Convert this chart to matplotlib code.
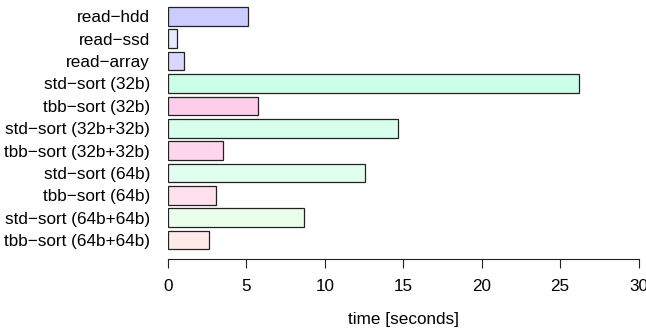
import numpy as np
import matplotlib
matplotlib.use("Agg")
import matplotlib.pyplot as plt

plt.rcParams['font.family'] = ['Liberation Sans', 'DejaVu Sans']

labels = ["read−hdd", "read−ssd", "read−array",
          "std−sort (32b)", "tbb−sort (32b)",
          "std−sort (32b+32b)", "tbb−sort (32b+32b)",
          "std−sort (64b)", "tbb−sort (64b)",
          "std−sort (64b+64b)", "tbb−sort (64b+64b)"]
seconds = [5.12, 0.55, 1.0, 26.19, 5.72, 14.65, 3.53, 12.59, 3.06, 8.65, 2.64]
colors = ["#ccccff", "#e8e8ff", "#d8d8ff",
          "#ccffe8", "#ffccea",
          "#d6ffec", "#ffd6ec",
          "#e0ffee", "#ffe0ec",
          "#eaffea", "#ffeaea"]
xticks = [0, 5, 10, 15, 20, 25, 30]

fig = plt.figure(figsize=(6.46, 3.31), dpi=100)
ax = fig.add_axes([168 / 646, 1 - 259.3 / 331, (638.5 - 168) / 646, (259.3 - 5) / 331])

n = len(labels)
ypos = np.arange(n)[::-1]
ax.barh(ypos, seconds, height=0.833, color=colors, edgecolor="#222222", linewidth=0.9)

ax.set_xlim(0, 30)
ax.set_ylim(-0.864, 10.51)
ax.set_yticks(ypos)
ax.set_yticklabels(labels, fontsize=12.3)
ax.tick_params(axis='y', length=0, pad=13)
ax.set_xticks(xticks)
ax.set_xticklabels([str(t) for t in xticks], fontsize=12.3)
ax.tick_params(axis='x', length=6.5, width=0.8, pad=8, colors="#222222", labelcolor="black")

for s in ["top", "right", "left"]:
    ax.spines[s].set_visible(False)
ax.spines["bottom"].set_linewidth(0.8)
ax.spines["bottom"].set_color("#222222")

ax.set_xlabel("time [seconds]", fontsize=12.3, labelpad=13)

fig.savefig("out.png", dpi=100)
